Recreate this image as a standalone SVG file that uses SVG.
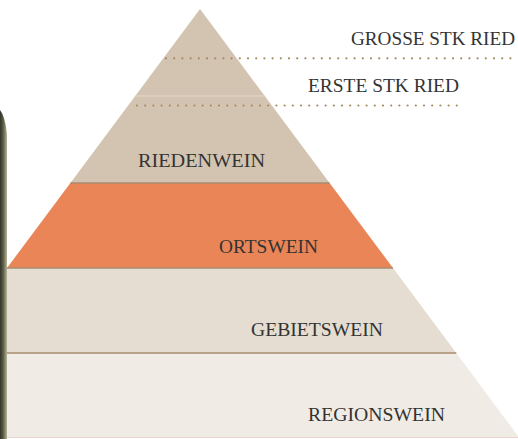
<svg xmlns="http://www.w3.org/2000/svg" width="518" height="439" viewBox="0 0 518 439">
<defs>
<style>
.t{font-family:"Liberation Serif","Times New Roman",serif;font-size:19px;fill:#333;}
.dot{stroke:#a8865e;stroke-width:2.2;stroke-linecap:round;stroke-dasharray:0 8.2;fill:none;}
.sep{stroke:#a88d6e;stroke-width:1.3;}
</style>
<linearGradient id="bottle" x1="0" y1="0" x2="1" y2="0">
<stop offset="0" stop-color="#33342a"/>
<stop offset="0.45" stop-color="#5b5c45"/>
<stop offset="0.75" stop-color="#8d8c6c"/>
<stop offset="1" stop-color="#b5b49c"/>
</linearGradient>
</defs>
<rect width="518" height="439" fill="#ffffff"/>
<g id="tier-top">
<polygon points="200,9 264.8,96 135.2,96" fill="#d3c4b2"/>
</g>
<g id="tier-riedenwein">
<polygon points="135.2,96 264.8,96 329.6,183 70.4,183" fill="#d3c4b2"/>
<line x1="135.2" y1="96" x2="264.8" y2="96" stroke="#e2d8cb" stroke-width="1"/>
<text class="t" x="138" y="167" textLength="127" lengthAdjust="spacingAndGlyphs">RIEDENWEIN</text>
</g>
<g id="tier-ortswein">
<polygon points="70.4,183 329.6,183 393,268 7,268" fill="#ea8557"/>
<text class="t" x="219" y="253" textLength="99" lengthAdjust="spacingAndGlyphs">ORTSWEIN</text>
</g>
<g id="tier-gebietswein">
<polygon points="7,268 393,268 456.3,353 7,353" fill="#e5ddd2"/>
<text class="t" x="251" y="336" textLength="132" lengthAdjust="spacingAndGlyphs">GEBIETSWEIN</text>
</g>
<g id="tier-regionswein">
<polygon points="7,353 456.3,353 518,436 518,437 7,437" fill="#f0ece5"/>
<line x1="7" y1="437.5" x2="518" y2="437.5" stroke="#e6d6cc" stroke-width="1"/>
<text class="t" x="308" y="421" textLength="137" lengthAdjust="spacingAndGlyphs">REGIONSWEIN</text>
</g>
<g id="connectors">
<line class="sep" x1="70.4" y1="183" x2="329.6" y2="183"/>
<line class="sep" x1="7" y1="268" x2="393" y2="268"/>
<line class="sep" x1="7" y1="353" x2="456.3" y2="353"/>
<line class="dot" x1="166" y1="58.3" x2="518" y2="58.3"/>
<line class="dot" x1="137" y1="105.5" x2="460" y2="105.5"/>
</g>
<g id="label-grosse">
<text class="t" x="351" y="45" textLength="164" lengthAdjust="spacingAndGlyphs">GROSSE STK RIED</text>
</g>
<g id="label-erste">
<text class="t" x="308" y="92" textLength="151" lengthAdjust="spacingAndGlyphs">ERSTE STK RIED</text>
</g>
<g id="bottle-edge">
<path d="M0,110 Q5,116 7,134 L7,439 L0,439 Z" fill="url(#bottle)"/>
</g>
</svg>
